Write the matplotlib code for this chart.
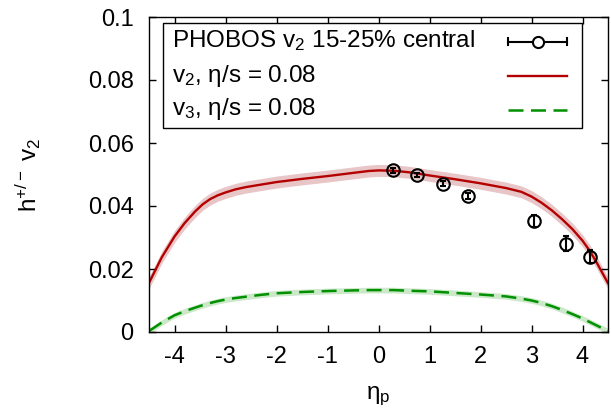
import numpy as np
import matplotlib
matplotlib.use("Agg")
import matplotlib.pyplot as plt

plt.rcParams['font.family'] = ['Liberation Sans', 'DejaVu Sans']
plt.rcParams['mathtext.fontset'] = 'custom'
plt.rcParams['mathtext.rm'] = 'Liberation Sans'
plt.rcParams['mathtext.it'] = 'Liberation Sans:italic'

eta_curve = [-4.5, -4.25, -4.0, -3.8, -3.6, -3.45, -3.3, -3.15, -3.0, -2.8, -2.6, -2.3, -2.0, -1.5,
             -1.0, -0.5, -0.2, 0.0, 0.3, 0.6, 1.0, 1.5, 2.0, 2.5, 2.8, 3.0, 3.2, 3.4, 3.6, 3.8,
             4.0, 4.15, 4.3, 4.5]
v2_curve = [0.0156, 0.0237, 0.0303, 0.0346, 0.0382, 0.0405, 0.0422, 0.0434, 0.0443, 0.0453, 0.0460,
            0.0468, 0.0476, 0.0486, 0.0495, 0.0505, 0.0511, 0.0513, 0.0512, 0.0507, 0.0497, 0.0485,
            0.0472, 0.0457, 0.0445, 0.0430, 0.0410, 0.0386, 0.0358, 0.0327, 0.0290, 0.0256, 0.0214,
            0.0155]
v2_band = [0.0019] * len(eta_curve)
v3_curve = [0.0003, 0.0030, 0.0053, 0.0066, 0.0077, 0.0085, 0.0092, 0.0098, 0.0103, 0.0108, 0.0112,
            0.0118, 0.0123, 0.0127, 0.0130, 0.0132, 0.0133, 0.0133, 0.0133, 0.0131, 0.0129, 0.0124,
            0.0119, 0.0113, 0.0106, 0.0100, 0.0092, 0.0082, 0.0070, 0.0057, 0.0043, 0.0031, 0.0019,
            0.0003]
v3_band = [0.0009] * len(eta_curve)

eta_data = [0.28, 0.75, 1.26, 1.76, 3.05, 3.68, 4.14]
v2_data = [0.0513, 0.0499, 0.0471, 0.0432, 0.0352, 0.0280, 0.0239]
v2_data_err = [0.0007, 0.0007, 0.0008, 0.0010, 0.0018, 0.0024, 0.0020]

fig = plt.figure(figsize=(6.11, 4.13), dpi=100)
ax = fig.add_axes([149/611, 1-332/413, (608-149)/611, (332-17)/413])

e = np.array(eta_curve)
v2 = np.array(v2_curve); v3 = np.array(v3_curve)
ax.fill_between(e, v2 - np.array(v2_band), v2 + np.array(v2_band), color='#e8c6c8', lw=0)
ax.fill_between(e, v3 - np.array(v3_band), v3 + np.array(v3_band), color='#cbe8c8', lw=0)
ax.plot(e, v2, color='#b40000', lw=1.7)
ax.plot(e, v3, color='#009000', lw=1.8, ls=(0, (6, 3)))
ax.errorbar(eta_data, v2_data, yerr=v2_data_err, fmt='o', mfc='none', mec='black', ms=9, mew=1.5,
            ecolor='black', elinewidth=1.5, capsize=2.5, capthick=1.5)

ax.set_xlim(-4.5, 4.5)
ax.set_ylim(0, 0.1)
ax.set_xticks([-4, -3, -2, -1, 0, 1, 2, 3, 4])
ax.set_xticklabels(['-4', '-3', '-2', '-1', '0', '1', '2', '3', '4'])
ax.set_yticks([0, 0.02, 0.04, 0.06, 0.08, 0.1])
ax.set_yticklabels(['0', '0.02', '0.04', '0.06', '0.08', '0.1'])
ax.tick_params(direction='in', top=True, right=True, labelsize=17, length=5, width=1)
ax.tick_params(axis='x', pad=10)
ax.tick_params(axis='y', pad=11)
for s in ax.spines.values():
    s.set_linewidth(1.0)
ax.set_xlabel(r'η$_\mathregular{p}$', fontsize=17.5, labelpad=12)
ax.set_ylabel(r'h$^\mathregular{+/-}$ v$_\mathregular{2}$', fontsize=17.5, labelpad=32)

# legend (gnuplot style: text left, sample right)
T = ax.transAxes
from matplotlib.patches import Rectangle
ax.add_patch(Rectangle((0.0305, 0.648), 0.943 - 0.0305, 0.981 - 0.648, transform=T,
                       fill=True, facecolor='white', edgecolor='black', lw=1.0, zorder=5))
labels = [r'PHOBOS v$_\mathregular{2}$ 15-25% central', r'v$_\mathregular{2}$, η/s = 0.08',
          r'v$_\mathregular{3}$, η/s = 0.08']
bases = [0.905, 0.795, 0.689]
for lab, yb in zip(labels, bases):
    ax.text(0.050, yb, lab, transform=T, fontsize=17.5, va='baseline', ha='left', zorder=6)
hx0, hx1 = 0.782, 0.911
ax.plot([hx0, hx1], [0.922, 0.922], transform=T, color='black', lw=1.5, zorder=6)
ax.plot([hx0, hx0], [0.910, 0.934], transform=T, color='black', lw=1.5, zorder=6)
ax.plot([hx1, hx1], [0.910, 0.934], transform=T, color='black', lw=1.5, zorder=6)
ax.plot([(hx0 + hx1) / 2], [0.922], 'o', transform=T, mfc='white', mec='black', ms=8, mew=1.5, zorder=7)
ax.plot([hx0, hx1], [0.813, 0.813], transform=T, color='#b40000', lw=1.7, zorder=6)
ax.plot([hx0, hx1], [0.705, 0.705], transform=T, color='#009000', lw=1.8, ls=(0, (6, 3)), zorder=6)

fig.savefig('out.png', dpi=100)
